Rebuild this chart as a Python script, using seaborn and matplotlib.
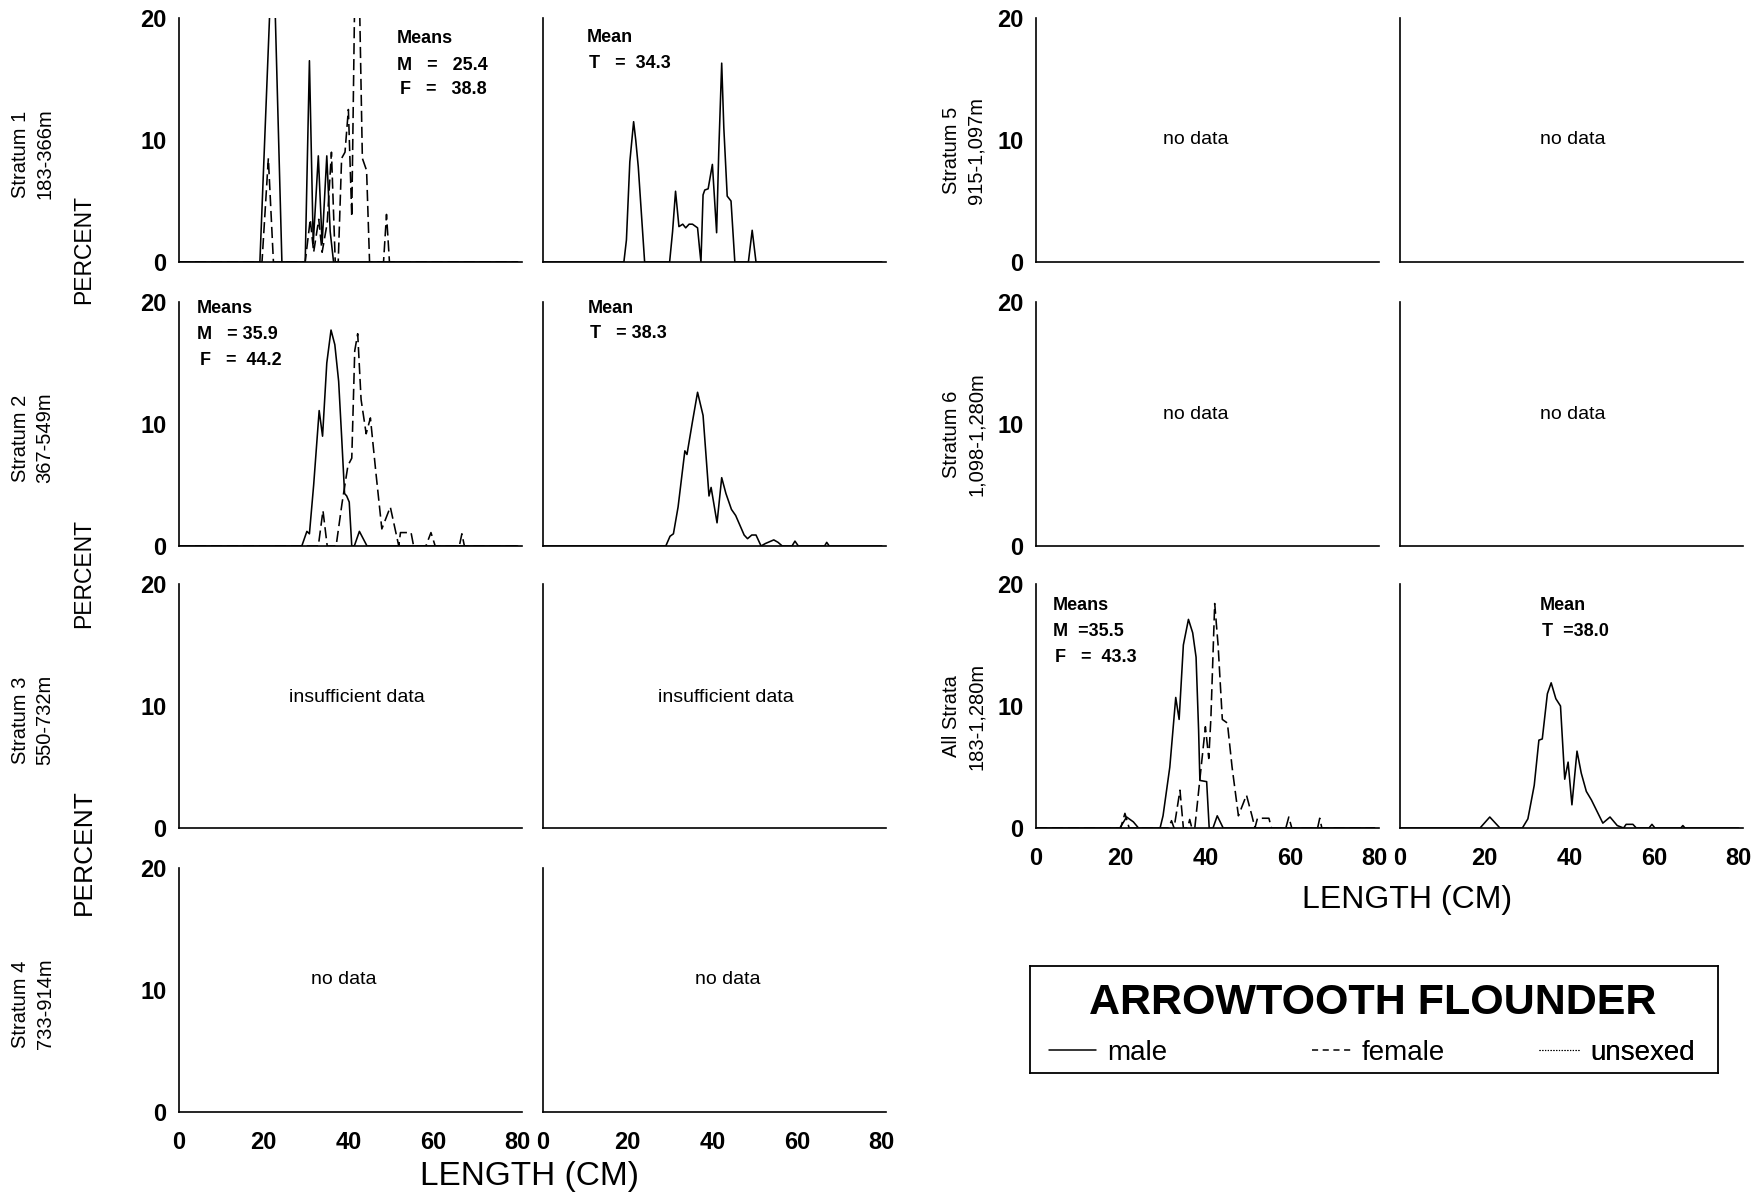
import matplotlib
matplotlib.use("Agg")
import matplotlib.pyplot as plt
import seaborn as sns
from matplotlib.lines import Line2D

# ---------------- data (length cm, percent) ----------------
s1_male_len = [0, 19.1, 21.6, 22.6, 24.3, 29.8, 30.8, 31.7, 32.9, 33.8, 34.9, 35.7, 36.5, 80]
s1_male_pct = [0, 0, 22, 22, 0, 0, 16.5, 1.5, 8.7, 1.5, 8.7, 2.5, 0, 0]
s1_female_len = [0, 19.6, 21.1, 22.3, 29.8, 31.0, 31.8, 33.0, 33.8, 35.0, 36.0, 36.9, 37.6, 38.4,
                 39.2, 40.0, 40.8, 41.5, 42.6, 43.3, 44.3, 45.0, 48.3, 49.0, 49.7, 80]
s1_female_pct = [0, 0, 8.5, 0, 0, 3.5, 0.8, 3.5, 0.8, 3.2, 9.0, 0, 0, 8.5,
                 9.0, 12.5, 3.7, 22, 22, 8.5, 7.5, 0, 0, 3.9, 0, 0]
s1_total_len = [0, 19.1, 19.7, 20.5, 21.4, 21.9, 22.5, 24.0, 29.9, 30.6, 31.3, 32.1, 33.0, 33.7,
                34.5, 35.3, 36.5, 37.0, 37.3, 37.8, 38.2, 39.0, 40.0, 41.0, 41.5, 42.2, 42.7,
                43.5, 44.4, 45.3, 48.5, 49.4, 50.3, 80]
s1_total_pct = [0, 0, 1.8, 8.2, 11.5, 10.0, 7.8, 0, 0, 2.5, 5.8, 2.9, 3.1, 2.8,
                3.1, 3.1, 2.8, 1.0, 0, 5.5, 5.9, 6.0, 8.0, 2.4, 9.0, 16.3, 11.0,
                5.4, 5.0, 0, 0, 2.6, 0, 0]

s2_male_len = [0, 29.0, 30.2, 30.8, 31.8, 33.1, 33.9, 34.9, 35.9, 36.8, 37.7, 38.4, 39.1, 39.6,
               40.2, 40.8, 41.4, 42.6, 44.4, 80]
s2_male_pct = [0, 0, 1.2, 1.0, 5.0, 11.1, 9.0, 15.0, 17.7, 16.5, 13.5, 9.0, 4.3, 4.1,
               3.6, 0, 0, 1.2, 0, 0]
s2_female_len = [0, 32.9, 34.0, 35.0, 37.1, 38.5, 39.9, 40.8, 41.5, 42.2, 43.0, 44.2, 45.2, 46.5,
                 47.9, 49.9, 51.9, 52.3, 53.0, 54.8, 55.4, 58.3, 59.5, 60.5, 66.2, 66.8, 67.4, 80]
s2_female_pct = [0, 0, 2.9, 0, 0, 3.5, 6.6, 7.2, 16.0, 17.4, 12.0, 9.2, 10.5, 6.0,
                 1.4, 3.2, 0, 1.1, 1.1, 1.1, 0, 0, 1.1, 0, 0, 1.0, 0, 0]
s2_total_len = [0, 29.0, 30.0, 30.8, 31.9, 33.5, 34.0, 35.3, 36.5, 37.8, 39.2, 39.7, 41.1, 42.2,
                43.2, 44.5, 45.5, 47.5, 48.3, 49.3, 50.3, 51.5, 52.5, 54.5, 55.5, 56.5, 58.8,
                59.5, 60.3, 66.5, 67.0, 67.6, 80]
s2_total_pct = [0, 0, 0.8, 1.0, 3.2, 7.8, 7.5, 10.2, 12.6, 10.7, 4.1, 4.8, 1.9, 5.6,
                4.3, 3.0, 2.5, 0.9, 0.6, 0.9, 0.9, 0, 0.2, 0.5, 0.3, 0, 0,
                0.4, 0, 0, 0.3, 0, 0]

all_male_len = [0, 19.8, 21.4, 23.0, 24.2, 29.3, 30.0, 31.6, 33.0, 33.8, 34.8, 36.0, 37.0, 37.8,
                38.4, 38.7, 40.3, 40.9, 41.8, 42.8, 44.2, 80]
all_male_pct = [0, 0, 0.9, 0.5, 0, 0, 1.0, 5.0, 10.7, 8.9, 15.0, 17.1, 16.0, 14.0,
                8.0, 3.9, 3.8, 0, 0, 1.0, 0, 0]
all_female_len = [0, 20.0, 21.0, 22.0, 31.3, 32.0, 32.6, 34.0, 34.8, 35.8, 36.3, 36.8, 37.5, 38.7,
                  40.0, 40.8, 41.3, 42.2, 43.0, 44.0, 45.2, 46.3, 47.8, 49.7, 51.0, 51.7, 52.3,
                  53.0, 55.0, 55.6, 59.0, 59.7, 60.4, 66.5, 67.0, 67.5, 80]
all_female_pct = [0, 0, 1.2, 0, 0, 0.6, 0, 3.1, 0, 0, 0.7, 0, 0, 4.0,
                  8.3, 5.7, 9.0, 18.4, 15.0, 8.9, 8.6, 5.0, 1.0, 2.7, 1.0, 0, 0.8,
                  0.8, 0.8, 0, 0, 0.9, 0, 0, 0.8, 0, 0]
all_total_len = [0, 18.9, 21.2, 23.6, 28.9, 30.2, 31.7, 32.8, 33.6, 34.8, 35.7, 36.8, 37.9, 38.9,
                 39.7, 40.6, 41.8, 42.8, 44.0, 45.2, 47.9, 49.6, 51.3, 52.8, 53.4, 55.0, 55.8,
                 58.8, 59.5, 60.2, 66.3, 66.8, 67.3, 80]
all_total_pct = [0, 0, 0.9, 0, 0, 0.75, 3.5, 7.2, 7.3, 11.0, 11.9, 10.6, 10.0, 4.0,
                 5.4, 1.9, 6.3, 4.5, 3.0, 2.3, 0.4, 0.9, 0.2, 0, 0.3, 0.3, 0,
                 0, 0.3, 0, 0, 0.2, 0, 0]

stratum_left = ["Stratum 1\n183-366m", "Stratum 2\n367-549m", "Stratum 3\n550-732m", "Stratum 4\n733-914m"]
stratum_right = ["Stratum 5\n915-1,097m", "Stratum 6\n1,098-1,280m", "All Strata\n183-1,280m"]
x_ticks = [0, 10, 20, 30, 40, 50, 60, 70, 80]
x_ticklabels = ["0", "", "20", "", "40", "", "60", "", "80"]
y_ticks = [0, 5, 10, 15, 20]
y_ticklabels = ["0", "", "10", "", "20"]
legend_labels = ["male", "female", "unsexed"]

# ---------------- style ----------------
sns.set_theme(style="white")
plt.rcParams["font.family"] = ["Liberation Sans", "DejaVu Sans"]
plt.rcParams["text.color"] = "black"
plt.rcParams["axes.labelcolor"] = "black"
plt.rcParams["xtick.color"] = "black"
plt.rcParams["ytick.color"] = "black"

W, H = 1751, 1194
fig = plt.figure(figsize=(W / 100, H / 100), dpi=100)

col_x = [179, 543, 1036, 1400]
col_w = 343
row_top = [18, 302, 584, 868]
row_h = 244

LW = 1.15
SOLID = dict(color="black", linewidth=LW, linestyle="-")
DASH = dict(color="black", linewidth=LW, linestyle=(0, (7, 3)))


def make_ax(r, c, xlabels, ylabels):
    left = col_x[c] / W
    bottom = 1 - (row_top[r] + row_h) / H
    ax = fig.add_axes([left, bottom, col_w / W, row_h / H])
    ax.set_xlim(0, 81)
    ax.set_ylim(0, 20)
    for s in ["top", "right"]:
        ax.spines[s].set_visible(False)
    for s in ["left", "bottom"]:
        ax.spines[s].set_color("black")
        ax.spines[s].set_linewidth(1.2)
    ax.set_xticks(x_ticks)
    ax.set_yticks(y_ticks)
    ax.set_xticklabels(x_ticklabels if xlabels else [""] * len(x_ticks))
    ax.set_yticklabels(y_ticklabels if ylabels else [""] * len(y_ticks))
    ax.tick_params(axis="both", direction="out", length=5, width=1.1, colors="black",
                   labelsize=17)
    ax.tick_params(axis="x", pad=9)
    ax.tick_params(axis="y", pad=4)
    for t in ax.get_xticklabels() + ax.get_yticklabels():
        t.set_fontweight("bold")
        t.set_color("black")
    ax.set_facecolor("white")
    ax.grid(False)
    return ax


def line(ax, xs, ys, style):
    sns.lineplot(x=xs, y=ys, ax=ax, estimator=None, sort=False, **style)


def txt(ax, x, y, s, size=13, weight="bold", ha="left"):
    ax.text(x, y, s, fontsize=size, fontweight=weight, ha=ha, va="center", color="black")


axes = {}
for r in range(4):
    for c in range(2):
        axes[(r, c)] = make_ax(r, c, xlabels=(r == 3), ylabels=(c == 0))
for r in range(3):
    for c in range(2, 4):
        axes[(r, c)] = make_ax(r, c, xlabels=(r == 2), ylabels=(c == 2))

# Stratum 1
ax = axes[(0, 0)]
line(ax, s1_male_len, s1_male_pct, SOLID)
line(ax, s1_female_len, s1_female_pct, DASH)
txt(ax, 51.5, 18.3, "Means")
txt(ax, 51.5, 16.1, "M   =   25.4")
txt(ax, 52.3, 14.1, "F   =   38.8")
ax = axes[(0, 1)]
line(ax, s1_total_len, s1_total_pct, SOLID)
txt(ax, 10.4, 18.4, "Mean")
txt(ax, 10.9, 16.3, "T   =  34.3")

# Stratum 2
ax = axes[(1, 0)]
line(ax, s2_male_len, s2_male_pct, SOLID)
line(ax, s2_female_len, s2_female_pct, DASH)
txt(ax, 4.3, 19.5, "Means")
txt(ax, 4.3, 17.3, "M   = 35.9")
txt(ax, 5.0, 15.2, "F   =  44.2")
ax = axes[(1, 1)]
line(ax, s2_total_len, s2_total_pct, SOLID)
txt(ax, 10.6, 19.5, "Mean")
txt(ax, 11.0, 17.4, "T   = 38.3")

# Stratum 3 / 4
txt(axes[(2, 0)], 42, 10.7, "insufficient data", size=14, weight="normal", ha="center")
txt(axes[(2, 1)], 43.3, 10.7, "insufficient data", size=14, weight="normal", ha="center")
for c, xpos in [(0, 39), (1, 43.7)]:
    txt(axes[(3, c)], xpos, 10.9, "no data", size=14, weight="normal", ha="center")
# Stratum 5 / 6
for r, ypos in [(0, 10.0), (1, 10.8)]:
    for c, xpos in [(2, 37.8), (3, 40.9)]:
        txt(axes[(r, c)], xpos, ypos, "no data", size=14, weight="normal", ha="center")

# All strata
ax = axes[(2, 2)]
line(ax, all_male_len, all_male_pct, SOLID)
line(ax, all_female_len, all_female_pct, DASH)
txt(ax, 4.0, 18.2, "Means")
txt(ax, 4.0, 16.1, "M  =35.5")
txt(ax, 4.6, 14.0, "F   =  43.3")
ax = axes[(2, 3)]
line(ax, all_total_len, all_total_pct, SOLID)
txt(ax, 33.0, 18.2, "Mean")
txt(ax, 33.5, 16.1, "T  =38.0")

# Row labels
for r, lab in enumerate(stratum_left):
    yc = 1 - (row_top[r] + row_h / 2 + 14) / H
    fig.text(33 / W, yc, lab, rotation=90, ha="center", va="center", fontsize=14.5,
             linespacing=1.35)
for r, lab in enumerate(stratum_right):
    yc = 1 - (row_top[r] + row_h / 2 + 10) / H
    fig.text(964 / W, yc, lab, rotation=90, ha="center", va="center", fontsize=14.5,
             linespacing=1.35)

for yc, fs in [(250, 16.5), (573, 16.5), (852, 19)]:
    fig.text(84 / W, 1 - yc / H, "PERCENT", rotation=90, ha="center", va="center", fontsize=fs)

fig.text(530 / W, 1 - 1177 / H, "LENGTH (CM)", ha="center", va="center", fontsize=24)
fig.text(1407 / W, 1 - 900 / H, "LENGTH (CM)", ha="center", va="center", fontsize=23)

# Legend box
lx0, lx1, ly0, ly1 = 1030, 1718, 966, 1073
lax = fig.add_axes([lx0 / W, 1 - ly1 / H, (lx1 - lx0) / W, (ly1 - ly0) / H])
lax.set_xticks([])
lax.set_yticks([])
for s in lax.spines.values():
    s.set_visible(True)
    s.set_color("black")
    s.set_linewidth(1.3)
lax.set_facecolor("white")
lax.text(0.498, 0.65, "ARROWTOOTH FLOUNDER", transform=lax.transAxes, ha="center", va="center",
         fontsize=31, fontweight="bold", color="black")
handles = [Line2D([], [], color="black", linewidth=1.1, linestyle="-"),
           Line2D([], [], color="black", linewidth=1.1, linestyle=(0, (4, 3))),
           Line2D([], [], color="black", linewidth=0.8, linestyle=(0, (1, 1.5)))]
anchors = [0.027, 0.41, 0.74]
hlens = [1.7, 1.4, 1.45]
for h, lab, ax_x, hl in zip(handles, legend_labels, anchors, hlens):
    leg = lax.legend([h], [lab], loc="center left", bbox_to_anchor=(ax_x, 0.19), frameon=False,
                     fontsize=20, handlelength=hl, handletextpad=0.4, borderpad=0,
                     borderaxespad=0, labelcolor="black")
    lax.add_artist(leg)

fig.savefig("out.png", dpi=100, facecolor="white")
